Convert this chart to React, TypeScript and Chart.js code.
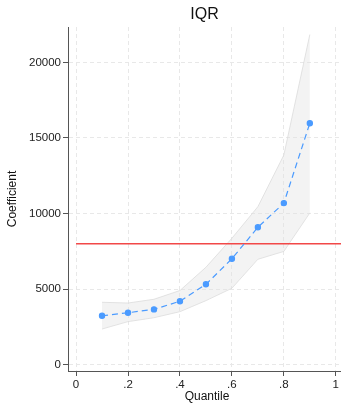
import React, { useEffect, useRef } from "react";
import { Chart, registerables } from "chart.js";

Chart.register(...registerables);

const quantiles = [0.1, 0.2, 0.3, 0.4, 0.5, 0.6, 0.7, 0.8, 0.9];
const coefficients = [3230, 3430, 3650, 4190, 5310, 7000, 9090, 10690, 15980];
const upperBound = [4120, 4070, 4320, 4900, 6440, 8360, 10450, 13870, 21850];
const lowerBound = [2350, 2840, 3100, 3500, 4230, 5050, 6970, 7490, 10040];
const referenceValue = 8000;
const xTicks = [0, 0.2, 0.4, 0.6, 0.8, 1];
const xTickLabels = ["0", ".2", ".4", ".6", ".8", "1"];
const yTicks = [0, 5000, 10000, 15000, 20000];
const titleText = "IQR";
const xTitle = "Quantile";
const yTitle = "Coefficient";

const FONT = "'Liberation Sans', Arial, Helvetica, sans-serif";

export default function App() {
  const ref = useRef<HTMLCanvasElement | null>(null);

  useEffect(() => {
    document.body.style.margin = "0";
    const canvas = ref.current!;
    const xMin = -0.031;
    const xMax = 1.02;

    const titlePlugin = {
      id: "customTitles",
      afterDraw(chart: any) {
        const ctx = chart.ctx;
        const area = chart.chartArea;
        ctx.save();
        ctx.fillStyle = "#111";
        ctx.textAlign = "center";
        ctx.textBaseline = "middle";
        ctx.font = `16px ${FONT}`;
        ctx.fillText(titleText, (area.left + area.right) / 2, 15);
        ctx.font = `12px ${FONT}`;
        ctx.fillText(xTitle, 207, 397);
        ctx.translate(13, (area.top + area.bottom) / 2);
        ctx.rotate(-Math.PI / 2);
        ctx.fillText(yTitle, 0, 0);
        ctx.restore();
      },
    };

    const chart = new Chart(canvas, {
      type: "scatter",
      data: {
        datasets: [
          {
            label: "upper",
            data: quantiles.map((q, i) => ({ x: q, y: upperBound[i] })),
            showLine: true,
            borderColor: "#dcdcdc",
            borderWidth: 0.8,
            backgroundColor: "rgba(225,225,225,0.4)",
            pointRadius: 0,
            fill: "+1",
            order: 3,
          },
          {
            label: "lower",
            data: quantiles.map((q, i) => ({ x: q, y: lowerBound[i] })),
            showLine: true,
            borderColor: "#dcdcdc",
            borderWidth: 0.8,
            pointRadius: 0,
            fill: false,
            order: 3,
          },
          {
            label: "ref",
            data: [
              { x: 0, y: referenceValue },
              { x: xMax, y: referenceValue },
            ],
            showLine: true,
            borderColor: "#f24848",
            borderWidth: 1.4,
            pointRadius: 0,
            fill: false,
            order: 2,
          },
          {
            label: "coef",
            data: quantiles.map((q, i) => ({ x: q, y: coefficients[i] })),
            showLine: true,
            borderColor: "#4b9bff",
            borderWidth: 1.2,
            borderDash: [6, 4],
            backgroundColor: "#4b9bff",
            pointBackgroundColor: "#4b9bff",
            pointBorderColor: "#4b9bff",
            pointRadius: 2.6,
            fill: false,
            order: 1,
          },
        ],
      },
      options: {
        animation: false,
        responsive: false,
        maintainAspectRatio: false,
        layout: { autoPadding: false, padding: { top: 27, right: 0, left: 0, bottom: 0 } },
        plugins: {
          legend: { display: false },
          tooltip: { enabled: false },
          title: { display: false },
        },
        scales: {
          x: {
            type: "linear",
            min: xMin,
            max: xMax,
            afterBuildTicks: (scale: any) => {
              scale.ticks = xTicks.map((v) => ({ value: v }));
            },
            afterFit: (scale: any) => {
              scale.height = 33;
              scale.paddingLeft = 0;
              scale.paddingRight = 0;
            },
            ticks: {
              callback: (v: any) => {
                const i = xTicks.indexOf(Number(v));
                return i >= 0 ? xTickLabels[i] : "";
              },
              color: "#222",
              font: { family: FONT, size: 11.5 },
              padding: 2,
              maxRotation: 0,
              autoSkip: false,
            },
            grid: {
              color: "#e8e8e8",
              lineWidth: 1,
              drawTicks: true,
              tickLength: 5,
              tickColor: "#555",
              tickBorderDash: [],
            },
            border: { display: true, color: "#555", width: 1, dash: [4, 3] },
          },
          y: {
            type: "linear",
            min: -430,
            max: 22350,
            afterBuildTicks: (scale: any) => {
              scale.ticks = yTicks.map((v) => ({ value: v }));
            },
            afterFit: (scale: any) => {
              scale.width = 68;
              scale.paddingTop = 0;
              scale.paddingBottom = 0;
            },
            ticks: {
              callback: (v: any) => String(v),
              color: "#222",
              font: { family: FONT, size: 11.5 },
              padding: 2,
              autoSkip: false,
            },
            grid: {
              color: "#e8e8e8",
              lineWidth: 1,
              drawTicks: true,
              tickLength: 5,
              tickColor: "#555",
              tickBorderDash: [],
            },
            border: { display: true, color: "#555", width: 1, dash: [4, 3] },
          },
        },
      },
      plugins: [titlePlugin],
    } as any);

    return () => chart.destroy();
  }, []);

  return (
    <div style={{ width: 341, height: 404, background: "#fff" }}>
      <canvas ref={ref} width={341} height={404} style={{ display: "block" }} />
    </div>
  );
}
